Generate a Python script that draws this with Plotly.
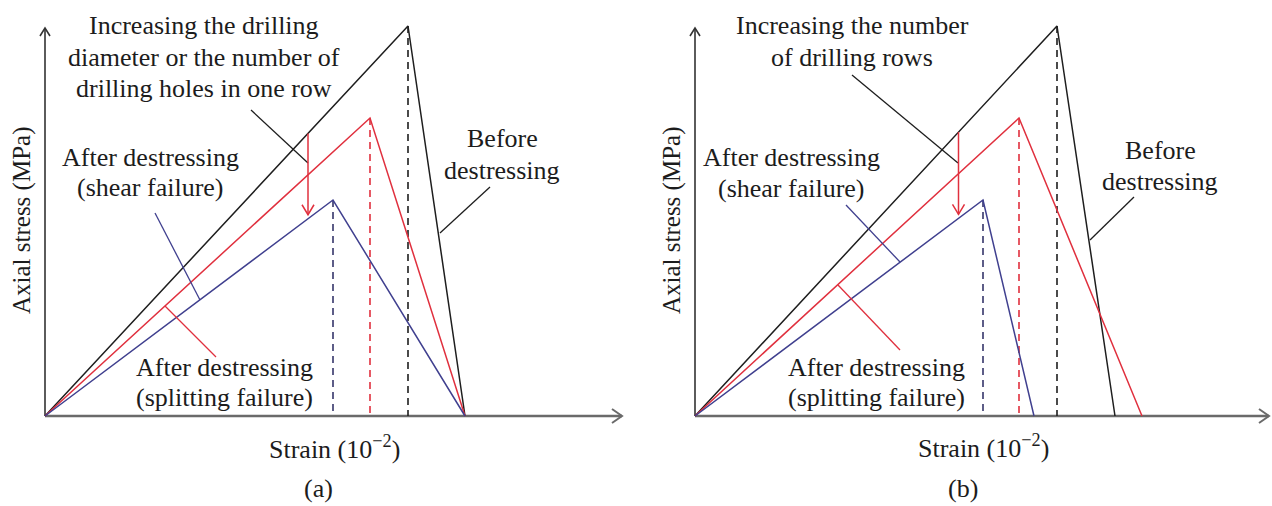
import numpy as np
import plotly.graph_objects as go

# ---------------- data (arbitrary strain / stress units) ----------------
# Panel (a)
a_black_x = [0, 3.63, 4.20]
a_black_y = [0, 3.90, 0]
a_red_x = [0, 3.25, 4.20]
a_red_y = [0, 2.98, 0]
a_blue_x = [0, 2.88, 4.20]
a_blue_y = [0, 2.16, 0]
# Panel (b)
b_black_x = [0, 3.62, 4.20]
b_black_y = [0, 3.90, 0]
b_red_x = [0, 3.24, 4.47]
b_red_y = [0, 2.98, 0]
b_blue_x = [0, 2.88, 3.39]
b_blue_y = [0, 2.16, 0]

# strain at which the red "decrease" arrow is drawn
arrow_strain = [2.63, 2.635]
# axis arrow lengths
axis_x_len = [5.77, 5.74]
axis_y_len = [3.88, 3.88]

# leader lines: (x0, y0, x1, y1, colour key)
a_leaders = [(2.06, 3.06, 2.63, 2.53, "k"), (4.45, 2.29, 3.95, 1.83, "k"),
             (1.10, 2.03, 1.55, 1.16, "b"), (1.71, 0.59, 1.20, 1.10, "r")]
b_leaders = [(1.57, 3.41, 2.63, 2.53, "k"), (4.39, 2.19, 3.95, 1.76, "k"),
             (1.51, 2.11, 2.05, 1.54, "b"), (2.05, 0.66, 1.43, 1.31, "r")]

# text labels: (text, x, y)
a_labels = [("Increasing the drilling", 1.59, 3.91),
            ("diameter or the number of", 1.59, 3.59),
            ("drilling holes in one row", 1.59, 3.28),
            ("Before", 4.57, 2.78), ("destressing", 4.57, 2.46),
            ("After destressing", 1.05, 2.59), ("(shear failure)", 1.05, 2.29),
            ("After destressing", 1.79, 0.49), ("(splitting failure)", 1.79, 0.19),
            ("Strain (10<sup>−2</sup>)", 2.89, -0.31), ("(a)", 2.73, -0.72)]
b_labels = [("Increasing the number", 1.57, 3.91),
            ("of drilling rows", 1.57, 3.59),
            ("Before", 4.65, 2.66), ("destressing", 4.65, 2.35),
            ("After destressing", 0.96, 2.59), ("(shear failure)", 0.96, 2.28),
            ("After destressing", 1.81, 0.49), ("(splitting failure)", 1.81, 0.19),
            ("Strain (10<sup>−2</sup>)", 2.88, -0.30), ("(b)", 2.68, -0.72)]
y_title = "Axial stress (MPa)"
y_title_pos = [(-0.23, 1.95), (-0.23, 1.95)]

# ---------------- styles ----------------
BLACK = "#1e1e1e"
RED = "#e0303e"
BLUE = "#40408f"
BLUE_DASH = "#35356a"
AXIS_Y = "#333333"
AXIS_X = "#6a6a6a"
FONT = "Liberation Serif"
TXT = "#1c1c1c"
colors = {"k": BLACK, "r": RED, "b": BLUE}

fig = go.Figure()


def line(x, y, color, width, xa, ya, dash="solid"):
    fig.add_trace(go.Scatter(x=x, y=y, mode="lines", xaxis=xa, yaxis=ya,
                             line=dict(color=color, width=width, dash=dash),
                             hoverinfo="skip", showlegend=False))


panels = [
    dict(xa="x", ya="y", curves=[(a_black_x, a_black_y, BLACK), (a_red_x, a_red_y, RED),
                                 (a_blue_x, a_blue_y, BLUE)],
         leaders=a_leaders, labels=a_labels),
    dict(xa="x2", ya="y2", curves=[(b_black_x, b_black_y, BLACK), (b_red_x, b_red_y, RED),
                                   (b_blue_x, b_blue_y, BLUE)],
         leaders=b_leaders, labels=b_labels),
]

for i, p in enumerate(panels):
    xa, ya = p["xa"], p["ya"]
    L, H = axis_x_len[i], axis_y_len[i]
    # axes
    line([0, 0], [0, H], AXIS_Y, 1.6, xa, ya)
    line([-0.05, 0, 0.05], [H - 0.08, H, H - 0.08], AXIS_Y, 1.6, xa, ya)
    line([0, L], [0, 0], AXIS_X, 2.4, xa, ya)
    line([L - 0.10, L, L - 0.10], [0.07, 0, -0.07], AXIS_X, 2.0, xa, ya)
    # dashed peak markers
    for cx, cy, col in p["curves"]:
        dcol = BLUE_DASH if col == BLUE else col
        line([cx[1], cx[1]], [cy[1], 0], dcol, 1.6, xa, ya, dash="7px,5px")
    # curves
    for cx, cy, col in p["curves"]:
        line(cx, cy, col, 1.5, xa, ya)
    # leader lines
    for x0, y0, x1, y1, c in p["leaders"]:
        line([x0, x1], [y0, y1], colors[c], 1.3, xa, ya)
    # red decrease arrow from black curve to blue curve
    s = arrow_strain[i]
    bx, by = p["curves"][0][0], p["curves"][0][1]
    ux, uy = p["curves"][2][0], p["curves"][2][1]
    y_top = float(np.interp(s, bx[:2], by[:2]))
    y_bot = float(np.interp(s, ux[:2], uy[:2])) + 0.04
    line([s, s], [y_top, y_bot], RED, 1.5, xa, ya)
    line([s - 0.06, s, s + 0.06], [y_bot + 0.10, y_bot, y_bot + 0.10], RED, 1.5, xa, ya)
    # labels
    for t, x, y in p["labels"]:
        fig.add_annotation(x=x, y=y, xref=xa, yref=ya, text=t, showarrow=False,
                           xanchor="center", yanchor="middle",
                           font=dict(family=FONT, size=26, color=TXT))
    fig.add_annotation(x=y_title_pos[i][0], y=y_title_pos[i][1], xref=xa, yref=ya,
                       text=y_title, showarrow=False, textangle=-90,
                       xanchor="center", yanchor="middle",
                       font=dict(family=FONT, size=25, color=TXT))

ax_common = dict(visible=False, fixedrange=True)
fig.update_layout(
    width=1272, height=506, autosize=False,
    margin=dict(l=0, r=0, t=0, b=0),
    paper_bgcolor="white", plot_bgcolor="white",
    xaxis=dict(domain=[0, 625 / 1272], range=[-0.45, 5.80], **ax_common),
    xaxis2=dict(domain=[640 / 1272, 1], range=[-0.55, 5.77], **ax_common),
    yaxis=dict(domain=[0, 1], range=[-0.90, 4.16], anchor="x", **ax_common),
    yaxis2=dict(domain=[0, 1], range=[-0.90, 4.16], anchor="x2", **ax_common),
    showlegend=False,
)

fig.write_html("out.html")
